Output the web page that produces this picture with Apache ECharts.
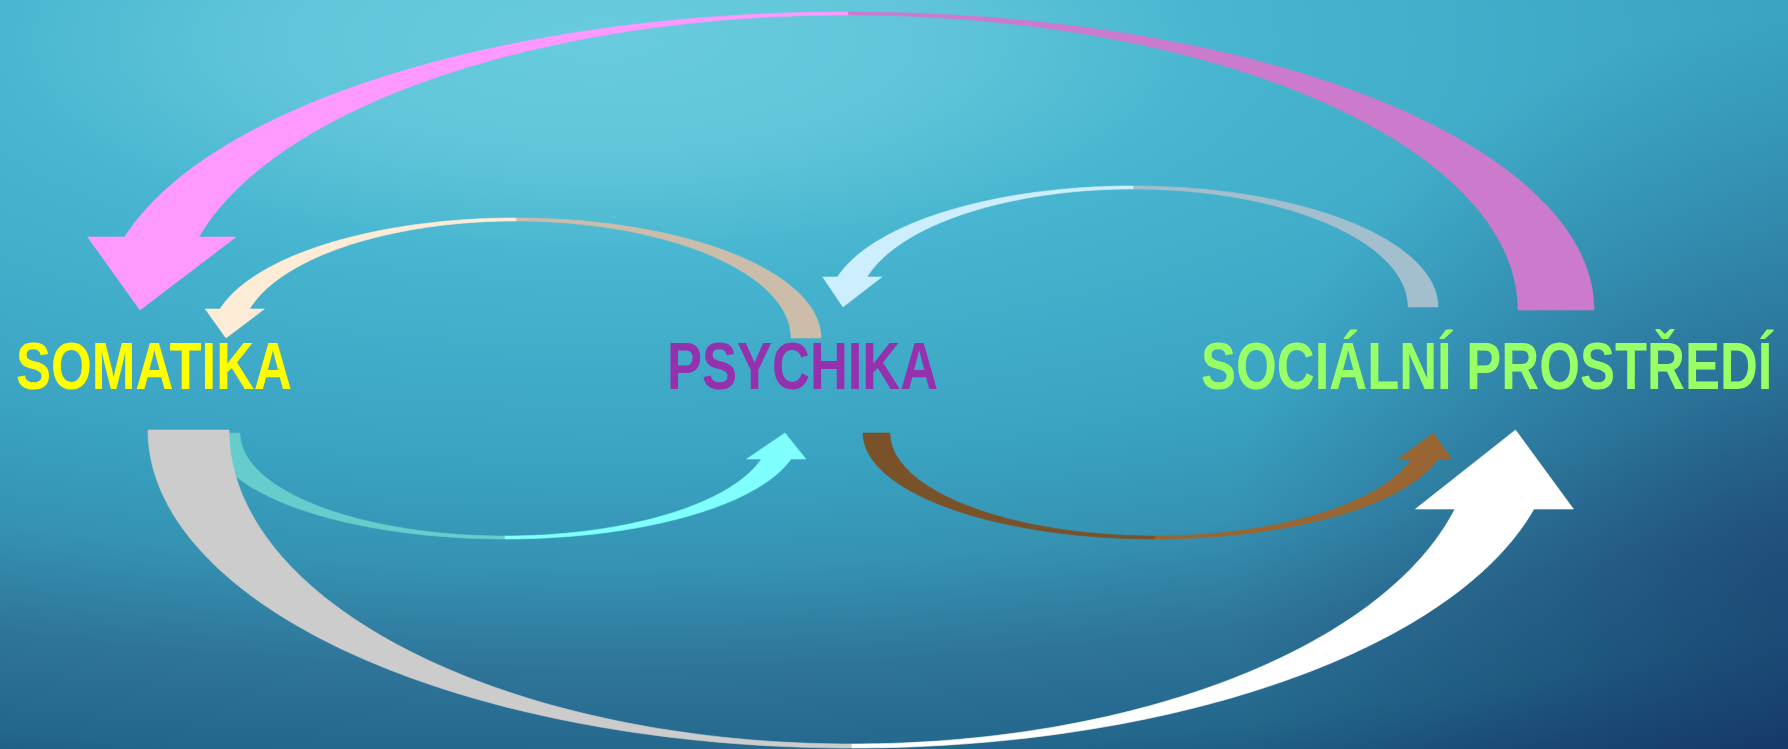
<!DOCTYPE html>
<html lang="cs">
<head>
    <meta charset="UTF-8">
    <title>Somatika – Psychika – Sociální prostředí</title>
    <script src="https://cdn.jsdelivr.net/npm/echarts@6/dist/echarts.min.js"></script>
    <style>
        html, body { margin: 0; padding: 0; overflow: hidden; }
    </style>
</head>
<body>
    <div id="main" style="width: 1788px;height:749px"></div>
    <script>
        var W = 1788, H = 749;

        // uzly (popisky)
        var nodeNames = ['SOMATIKA', 'PSYCHIKA', 'SOCIÁLNÍ PROSTŘEDÍ'];
        var nodeX = [16, 667, 1201];
        var nodeY = [371, 371, 371];
        var nodeColor = ['#FFFF00', '#9531AE', '#99FF66'];

        // šipky (od -> do), poslední kreslená je nahoře
        var arrowFrom = ['SOCIÁLNÍ PROSTŘEDÍ', 'PSYCHIKA', 'SOCIÁLNÍ PROSTŘEDÍ', 'SOMATIKA', 'PSYCHIKA', 'SOMATIKA'];
        var arrowTo   = ['SOMATIKA', 'SOMATIKA', 'PSYCHIKA', 'PSYCHIKA', 'SOCIÁLNÍ PROSTŘEDÍ', 'SOCIÁLNÍ PROSTŘEDÍ'];
        var arcCx     = [848, 516, 1133, 505, 1155, 852];
        var arcCy     = [310, 338, 307, 433, 433, 430];
        var outerRx   = [746, 305, 305, 295, 292, 704];
        var outerRy   = [298, 120, 121, 106, 106, 318];
        var innerRx   = [670, 275, 275, 265, 265, 623];
        var innerRy   = [295, 117, 118, 103, 103, 314];
        var headSide  = [-1, -1, -1, 1, 1, 1];   // hrot vlevo (-1) / vpravo (1)
        var bend      = [-1, -1, -1, 1, 1, 1];   // oblouk nahoře (-1) / dole (1)
        var headDepth = [73, 29, 30, 26, 26, 79];
        var arrowColor = ['#FF99FF', '#FFECD6', '#CCEEFF', '#80FFFF', '#996633', '#FFFFFF'];

        // tmavší polovina šipky (u ocasu)
        function shade(hex) {
            var n = parseInt(hex.slice(1), 16);
            var r = Math.round(((n >> 16) & 255) * 0.8);
            var g = Math.round(((n >> 8) & 255) * 0.8);
            var b = Math.round((n & 255) * 0.8);
            return 'rgb(' + r + ',' + g + ',' + b + ')';
        }

        function arrowItem(params, api) {
            var i = params.dataIndex;
            var c = api.coord([api.value(0), api.value(1)]);
            var so = api.size([outerRx[i], outerRy[i]]);
            var si = api.size([innerRx[i], innerRy[i]]);
            var hd = api.size([0, headDepth[i]])[1];
            var s = headSide[i], v = bend[i];
            function pt(r, t) {
                return [c[0] - s * r[0] * Math.cos(t), c[1] + v * r[1] * Math.sin(t)];
            }
            function arc(r, t0, t1, n) {
                var out = [];
                for (var k = 0; k <= n; k++) out.push(pt(r, t0 + (t1 - t0) * k / n));
                return out;
            }
            var half = Math.PI / 2;
            var endO = Math.PI - Math.asin(hd / so[1]);
            var endI = Math.PI - Math.asin(hd / si[1]);
            var tail = arc(so, 0, half, 90).concat(arc(si, half, 0, 90));
            var bo = pt(so, endO), bi = pt(si, endI);
            var w = Math.abs(bo[0] - bi[0]);
            var tip = [c[0] + s * (so[0] + si[0]) / 2, c[1]];
            var head = arc(so, half, endO, 90)
                .concat([[bo[0] + s * w / 2, bo[1]], tip, [bi[0] - s * w / 2, bi[1]]])
                .concat(arc(si, endI, half, 90));
            var col = arrowColor[i];
            return {
                type: 'group',
                children: [
                    {type: 'polygon', shape: {points: tail}, style: {fill: shade(col), stroke: shade(col), lineWidth: 0.6}},
                    {type: 'polygon', shape: {points: head}, style: {fill: col, stroke: col, lineWidth: 0.6}}
                ]
            };
        }

        function labelItem(params, api) {
            var i = params.dataIndex;
            var p = api.coord([api.value(0), api.value(1)]);
            return {
                type: 'text',
                x: p[0],
                y: p[1],
                scaleX: 0.795,
                style: {
                    text: nodeNames[i],
                    fill: nodeColor[i],
                    font: 'bold 66px "Liberation Sans", Arial, sans-serif',
                    align: 'left',
                    verticalAlign: 'middle'
                }
            };
        }

        var k = 2.82;
        var myChart = echarts.init(document.getElementById('main'));
        var option = {
            animation: false,
            graphic: [{
                type: 'rect',
                x: 0,
                y: 0,
                scaleX: k,
                z: -100,
                silent: true,
                shape: {x: 0, y: 0, width: W / k + 1, height: H},
                style: {
                    fill: {
                        type: 'radial', x: 600 / k, y: 40, r: 827, global: true,
                        colorStops: [
                            {offset: 0, color: '#68CCDE'},
                            {offset: 0.134, color: '#62C6DA'},
                            {offset: 0.262, color: '#48B6D0'},
                            {offset: 0.51, color: '#3AA3C2'},
                            {offset: 0.64, color: '#3592B2'},
                            {offset: 0.767, color: '#2E7398'},
                            {offset: 0.87, color: '#23688C'},
                            {offset: 1, color: '#183F6E'}
                        ]
                    }
                }
            }, {
                // ztmavení pravého dolního rohu
                type: 'rect',
                x: 0,
                y: 0,
                z: -99,
                silent: true,
                shape: {x: 0, y: 0, width: W, height: H},
                style: {
                    fill: {
                        type: 'radial', x: W, y: 580, r: 560, global: true,
                        colorStops: [
                            {offset: 0, color: 'rgba(18,45,95,0.5)'},
                            {offset: 1, color: 'rgba(18,45,95,0)'}
                        ]
                    }
                }
            }],
            grid: {left: 0, right: 0, top: 0, bottom: 0},
            xAxis: {type: 'value', min: 0, max: W, show: false},
            yAxis: {type: 'value', min: 0, max: H, inverse: true, show: false},
            series: [
                {
                    name: 'vazby',
                    type: 'custom',
                    renderItem: arrowItem,
                    clip: false,
                    silent: true,
                    data: arcCx.map(function (x, i) { return [x, arcCy[i], arrowFrom[i], arrowTo[i]]; })
                },
                {
                    name: 'oblasti',
                    type: 'custom',
                    renderItem: labelItem,
                    clip: false,
                    silent: true,
                    z: 5,
                    data: nodeX.map(function (x, i) { return [x, nodeY[i]]; })
                }
            ]
        };
        myChart.setOption(option, true);
    </script>
</body>
</html>
